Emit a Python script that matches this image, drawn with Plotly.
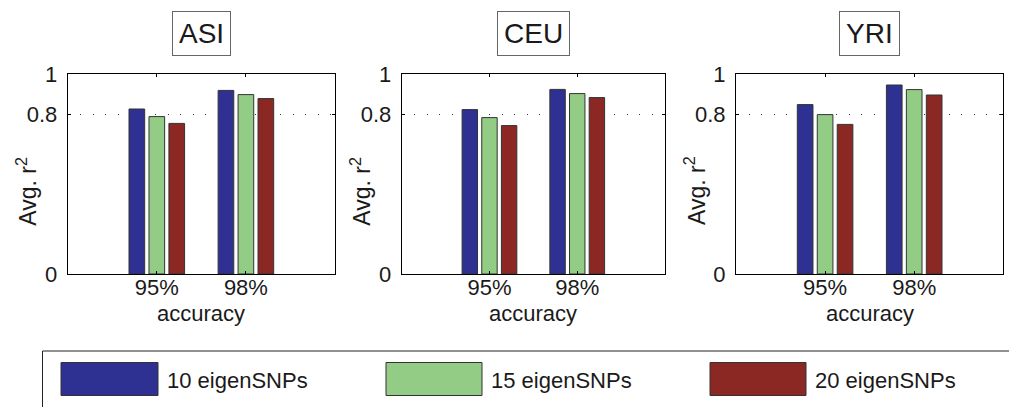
import plotly.graph_objects as go

# page geometry: the browser body adds an 8px margin around the plot div
PAGE_W, PAGE_H = 1017, 407
OFF = 8
W, H = PAGE_W - OFF, PAGE_H - OFF

panels = ["ASI", "CEU", "YRI"]
categories = ["95%", "98%"]
series_names = ["10 eigenSNPs", "15 eigenSNPs", "20 eigenSNPs"]
series_colors = ["#2E3192", "#93CD85", "#8B2824"]

asi_10 = [0.825, 0.918]
asi_15 = [0.787, 0.897]
asi_20 = [0.753, 0.877]
ceu_10 = [0.822, 0.923]
ceu_15 = [0.782, 0.902]
ceu_20 = [0.742, 0.882]
yri_10 = [0.847, 0.945]
yri_15 = [0.797, 0.922]
yri_20 = [0.748, 0.895]

ytick_vals = [0, 0.8, 1]
ytick_text = ["0", "0.8", "1"]

panel_data = {
    "ASI": [asi_10, asi_15, asi_20],
    "CEU": [ceu_10, ceu_15, ceu_20],
    "YRI": [yri_10, yri_15, yri_20],
}

# layout geometry in page pixels
x_domains_px = [(67.7, 335.0), (401.7, 665.0), (736.0, 1003.3)]
y_top_px, y_bot_px = 74.0, 274.0

def px_x(v):
    return (v - OFF) / W

def px_y(v):
    return 1 - (v - OFF) / H

FONT = "Liberation Sans, Arial, Helvetica, sans-serif"
TXT = "#1a1a1a"

fig = go.Figure()
layout = dict(
    width=W, height=H,
    margin=dict(l=0, r=0, t=0, b=0, autoexpand=False),
    paper_bgcolor="white", plot_bgcolor="white",
    barmode="group", bargap=0.328, bargroupgap=0.215,
    showlegend=False,
    font=dict(family=FONT, size=22, color=TXT),
)

annotations = []
shapes = []

for i, name in enumerate(panels):
    sfx = "" if i == 0 else str(i + 1)
    xa, ya = "x" + sfx, "y" + sfx
    for s, (sname, col) in enumerate(zip(series_names, series_colors)):
        fig.add_trace(go.Bar(
            x=categories, y=panel_data[name][s], name=sname,
            marker=dict(color=col, line=dict(color="#333333", width=1)),
            xaxis=xa, yaxis=ya, offsetgroup=str(s),
        ))
    x0, x1 = x_domains_px[i]
    layout["xaxis" + sfx] = dict(
        domain=[px_x(x0), px_x(x1)], anchor=ya, automargin=False,
        type="category", categoryorder="array", categoryarray=categories,
        range=[-1, 2], showline=True, linecolor="black", linewidth=1,
        mirror="allticks", ticks="inside", ticklen=3, tickcolor="black",
        showgrid=False, zeroline=False, ticklabelstandoff=-6,
        tickfont=dict(family=FONT, size=22, color=TXT),
    )
    layout["yaxis" + sfx] = dict(
        domain=[px_y(y_bot_px), px_y(y_top_px)], anchor=xa, automargin=False,
        range=[0, 1], tickvals=ytick_vals, ticktext=ytick_text,
        showline=True, linecolor="black", linewidth=1, mirror="allticks",
        ticks="inside", ticklen=3, tickcolor="black",
        showgrid=True, gridcolor="#333333", gridwidth=1, griddash="1px,11.5px",
        zeroline=False, ticklabelstandoff=5,
        tickfont=dict(family=FONT, size=22, color=TXT),
    )
    cx = (x0 + x1) / 2
    # panel title box
    annotations.append(dict(
        text=name, x=px_x(cx), y=px_y(33.5), xref="paper", yref="paper",
        showarrow=False, xanchor="center", yanchor="middle",
        font=dict(family=FONT, size=28, color=TXT),
        bordercolor="#666666", borderwidth=1, borderpad=6, height=31,
        bgcolor="white",
    ))
    # y axis title
    annotations.append(dict(
        text="Avg. r<sup>2</sup>", x=px_x(x0 - 41), y=px_y(191), xref="paper", yref="paper",
        showarrow=False, textangle=-90, xanchor="center", yanchor="middle",
        font=dict(family=FONT, size=23, color=TXT),
    ))
    # x axis title
    annotations.append(dict(
        text="accuracy", x=px_x(cx), y=px_y(313), xref="paper", yref="paper",
        showarrow=False, xanchor="center", yanchor="middle",
        font=dict(family=FONT, size=22, color=TXT),
    ))

# legend box
shapes.append(dict(type="rect", xref="paper", yref="paper",
                   x0=px_x(42.5), x1=1.05, y0=-0.2, y1=px_y(351),
                   line=dict(color="#222222", width=1), fillcolor="rgba(0,0,0,0)"))
swatch_x = [(61, 158), (386, 482), (710, 806)]
for (sx0, sx1), sname, col in zip(swatch_x, series_names, series_colors):
    shapes.append(dict(type="rect", xref="paper", yref="paper",
                       x0=px_x(sx0), x1=px_x(sx1), y0=px_y(395.5), y1=px_y(362.5),
                       line=dict(color="#333333", width=1), fillcolor=col))
    annotations.append(dict(
        text=sname, x=px_x(sx1 + 7), y=px_y(380), xref="paper", yref="paper",
        showarrow=False, xanchor="left", yanchor="middle",
        font=dict(family=FONT, size=22, color=TXT),
    ))

layout["annotations"] = annotations
layout["shapes"] = shapes
fig.update_layout(**layout)
fig.write_html("out.html")
